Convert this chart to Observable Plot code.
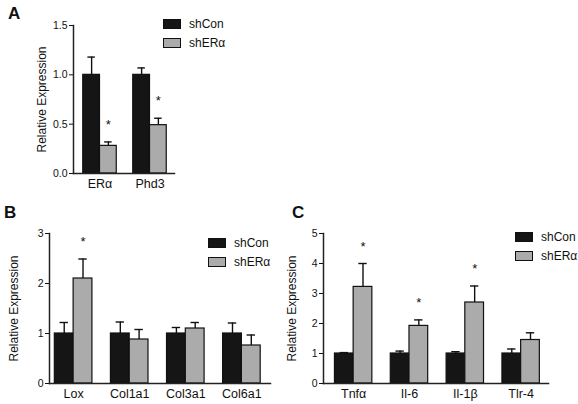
<!DOCTYPE html>
<html>
<head>
<meta charset="utf-8">
<script src="https://cdn.jsdelivr.net/npm/d3@7"></script>
<script src="https://cdn.jsdelivr.net/npm/@observablehq/plot@0.6"></script>
<style>
  html, body { margin: 0; padding: 0; background: #fff; }
  #root { position: relative; width: 578px; height: 404px; overflow: hidden; font-family: "Liberation Sans", Arial, sans-serif; }
  .panel { position: absolute; }
  .letter { position: absolute; font-weight: bold; font-size: 17px; color: #111; }
  .leg { position: absolute; font-size: 12px; color: #111; white-space: nowrap; }
  .leg .row { display: flex; align-items: center; height: 19px; }
  .leg .sw { width: 16px; height: 8px; border: 1px solid #111; margin-right: 8px; box-sizing: content-box; }
</style>
</head>
<body>
<div id="root"></div>
<script>
// ---------- data ----------
const seriesNames = ["shCon", "shERα"];
const seriesColors = ["#151515", "#ababab"];
const yTitle = "Relative Expression";

// Panel A
const genesA = ["ERα", "Phd3"];
const shConA = [1.0, 1.0];
const shConSemA = [0.18, 0.07];
const shERaA = [0.28, 0.49];
const shERaSemA = [0.04, 0.07];
const sigA = [true, true];
const yTicksA = [0, 0.5, 1.0, 1.5];

// Panel B
const genesB = ["Lox", "Col1a1", "Col3a1", "Col6a1"];
const shConB = [1.0, 1.0, 1.0, 1.0];
const shConSemB = [0.22, 0.23, 0.12, 0.21];
const shERaB = [2.1, 0.88, 1.1, 0.76];
const shERaSemB = [0.39, 0.2, 0.12, 0.21];
const sigB = [true, false, false, false];
const yTicksB = [0, 1, 2, 3];

// Panel C
const genesC = ["Tnfα", "Il-6", "Il-1β", "Tlr-4"];
const shConC = [1.0, 1.0, 1.0, 1.0];
const shConSemC = [0.03, 0.08, 0.06, 0.15];
const shERaC = [3.22, 1.92, 2.7, 1.45];
const shERaSemC = [0.78, 0.2, 0.55, 0.24];
const sigC = [true, true, true, false];
const yTicksC = [0, 1, 2, 3, 4, 5];

// ---------- drawing ----------
const root = document.getElementById("root");

function rows(genes, con, conSem, era, eraSem, sig) {
  const bw = 0.335;
  const out = [];
  genes.forEach((g, i) => {
    out.push({gene: g, i, series: seriesNames[0], x1: i - bw, x2: i, c: i - bw / 2, v: con[i], e: con[i] + conSem[i], sig: false});
    out.push({gene: g, i, series: seriesNames[1], x1: i, x2: i + bw, c: i + bw / 2, v: era[i], e: era[i] + eraSem[i], sig: sig[i]});
  });
  return out;
}

function panel(opts) {
  const {genes, data, yTicks, yfmt, xDomain, left, top, width, height, mLeft, mRight, mTop, mBottom, titleOffset} = opts;
  const cap = 0.075;
  const chart = Plot.plot({
    width, height,
    marginLeft: mLeft, marginRight: mRight, marginTop: mTop, marginBottom: mBottom,
    style: {fontFamily: "Liberation Sans, Arial, sans-serif", color: "#111", background: "transparent"},
    x: {domain: xDomain},
    y: {domain: [yTicks[0], yTicks[yTicks.length - 1]]},
    color: {domain: seriesNames, range: seriesColors},
    marks: [
      Plot.rectY(data, {x1: "x1", x2: "x2", y1: 0, y2: "v", fill: "series", stroke: "#111", strokeWidth: 1.2}),
      Plot.ruleX(data, {x: "c", y1: "v", y2: "e", stroke: "#111", strokeWidth: 1.4}),
      Plot.ruleY(data, {y: "e", x1: d => d.c - cap, x2: d => d.c + cap, stroke: "#111", strokeWidth: 1.4}),
      Plot.text(data.filter(d => d.sig), {x: "c", y: "e", text: () => "*", dy: -17, fontSize: 13, fill: "#111"}),
      Plot.axisY({ticks: yTicks, tickFormat: yfmt, tickSize: 4, tickPadding: 2, fontSize: 10.5, label: null}),
      Plot.text([yTitle], {frameAnchor: "left", textAnchor: "middle", lineAnchor: "middle", rotate: -90, dx: -titleOffset, fontSize: 12, fill: "#111"}),
      Plot.axisX({ticks: genes.map((g, i) => i), tickFormat: i => genes[i], tickSize: 0, tickPadding: 6, fontSize: 12.5, label: null}),
      Plot.frame({anchor: "left", stroke: "#222", strokeWidth: 1.5}),
      Plot.frame({anchor: "bottom", stroke: "#222", strokeWidth: 1.5})
    ]
  });
  const d = document.createElement("div");
  d.className = "panel";
  d.style.left = left + "px";
  d.style.top = top + "px";
  d.appendChild(chart);
  root.appendChild(d);
}

function legend(left, top) {
  const d = document.createElement("div");
  d.className = "leg";
  d.style.left = left + "px";
  d.style.top = top + "px";
  seriesNames.forEach((s, k) => {
    const r = document.createElement("div");
    r.className = "row";
    const sw = document.createElement("div");
    sw.className = "sw";
    sw.style.background = seriesColors[k];
    r.appendChild(sw);
    const t = document.createElement("span");
    t.textContent = s;
    r.appendChild(t);
    d.appendChild(r);
  });
  root.appendChild(d);
}

function letter(txt, left, top) {
  const d = document.createElement("div");
  d.className = "letter";
  d.textContent = txt;
  d.style.left = left + "px";
  d.style.top = top + "px";
  root.appendChild(d);
}

panel({genes: genesA, data: rows(genesA, shConA, shConSemA, shERaA, shERaSemA, sigA), yTicks: yTicksA,
  yfmt: d3.format(".1f"), xDomain: [-0.53, 1.49], titleOffset: 31,
  left: 0, top: 0, width: 200, height: 200, mLeft: 73, mRight: 26, mTop: 25, mBottom: 27});
panel({genes: genesB, data: rows(genesB, shConB, shConSemB, shERaB, shERaSemB, sigB), yTicks: yTicksB,
  yfmt: d3.format("d"), xDomain: [-0.43, 3.51], titleOffset: 35,
  left: 0, top: 200, width: 290, height: 204, mLeft: 49, mRight: 20, mTop: 33, mBottom: 21});
panel({genes: genesC, data: rows(genesC, shConC, shConSemC, shERaC, shERaSemC, sigC), yTicks: yTicksC,
  yfmt: d3.format("d"), xDomain: [-0.54, 3.49], titleOffset: 31,
  left: 274, top: 200, width: 304, height: 204, mLeft: 49, mRight: 30, mTop: 33, mBottom: 21});

legend(163, 14);
legend(208, 233);
legend(515, 227);

letter("A", 8, 4);
letter("B", 4, 203);
letter("C", 292, 203);
</script>
</body>
</html>
